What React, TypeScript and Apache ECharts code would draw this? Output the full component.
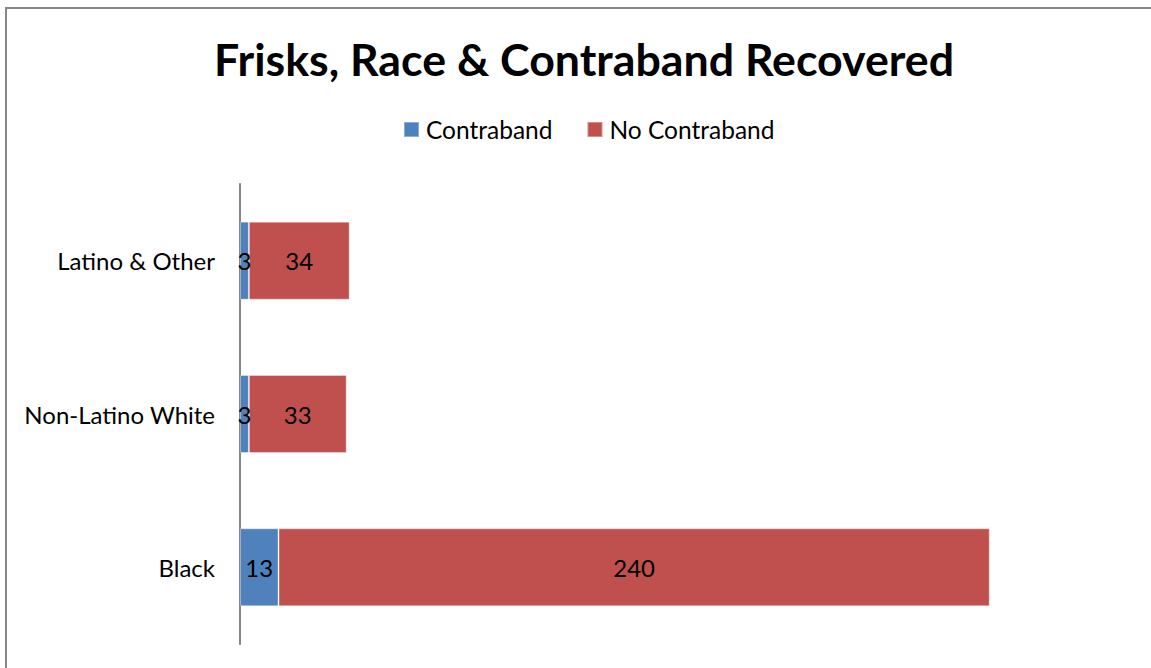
import React, { useEffect, useRef } from "react";
import * as echarts from "echarts";

const categories = ["Black", "Non-Latino White", "Latino & Other"];
const contraband = [13, 3, 3];
const noContraband = [240, 33, 34];
const seriesNames = ["Contraband", "No Contraband"];

const FONT = "Lato, 'Open Sans', sans-serif";

export default function App() {
  const ref = useRef<HTMLDivElement>(null);

  useEffect(() => {
    document.body.style.margin = "0";
    const chart = echarts.init(ref.current!, undefined, { renderer: "svg" });
    chart.setOption({
      animation: false,
      backgroundColor: "#ffffff",
      title: {
        text: "Frisks, Race & Contraband Recovered",
        left: 209,
        top: 31,
        textStyle: { fontFamily: FONT, fontWeight: "bold", fontSize: 44.7, color: "#000" },
      },
      legend: {
        data: seriesNames,
        top: 112,
        left: 398,
        itemWidth: 15,
        itemHeight: 15,
        itemGap: 34,
        icon: "rect",
        textStyle: { fontFamily: FONT, fontSize: 24.5, color: "#000", padding: [0, 0, 0, 2] },
      },
      grid: { left: 240, right: 22, top: 184, bottom: 24, containLabel: false },
      xAxis: {
        type: "value",
        min: 0,
        max: 300,
        show: false,
      },
      yAxis: {
        type: "category",
        data: categories,
        axisLine: { lineStyle: { color: "#868686", width: 2 } },
        axisTick: { show: false },
        axisLabel: { fontFamily: FONT, fontSize: 24, color: "#000", margin: 25 },
      },
      graphic: [
        {
          type: "rect",
          shape: { x: 6, y: 8, width: 1200, height: 700 },
          style: { fill: "none", stroke: "#878787", lineWidth: 2 },
          silent: true,
        },
      ],
      series: [
        {
          name: seriesNames[0],
          type: "bar",
          stack: "total",
          data: contraband,
          barWidth: 78,
          itemStyle: { color: "#4F81BD", borderColor: "rgba(255,255,255,0.35)", borderWidth: 1 },
          label: {
            show: true,
            position: "inside",
            fontFamily: FONT,
            fontSize: 24,
            color: "#000",
          },
        },
        {
          name: seriesNames[1],
          type: "bar",
          stack: "total",
          data: noContraband,
          barWidth: 78,
          itemStyle: { color: "#C0504D", borderColor: "rgba(255,255,255,0.35)", borderWidth: 1 },
          label: {
            show: true,
            position: "inside",
            fontFamily: FONT,
            fontSize: 24,
            color: "#000",
          },
        },
      ],
    });
    return () => chart.dispose();
  }, []);

  return (
    <div
      ref={ref}
      style={{ position: "absolute", left: 0, top: 0, width: 1151, height: 668 }}
    />
  );
}
